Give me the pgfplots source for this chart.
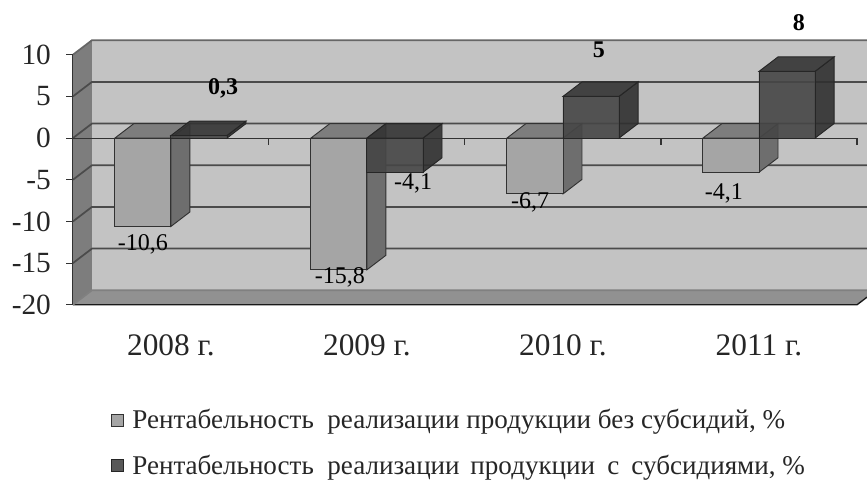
\documentclass[border=0pt]{standalone}
\usepackage{fontspec}
\setmainfont{Liberation Serif}
\usepackage{pgfplots}
\pgfplotsset{compat=1.18}
\definecolor{wallBack}{RGB}{195,195,195}
\definecolor{wallSide}{RGB}{125,125,125}
\definecolor{wallFloor}{RGB}{145,145,145}
\definecolor{gridDark}{RGB}{75,75,75}
\definecolor{lightFront}{RGB}{165,165,165}
\definecolor{lightTop}{RGB}{125,125,125}
\definecolor{lightSide}{RGB}{110,110,110}
\definecolor{darkFront}{RGB}{70,70,70}
\definecolor{darkTop}{RGB}{52,52,52}
\definecolor{darkSide}{RGB}{48,48,48}
\definecolor{edgeCol}{RGB}{50,50,50}
\pgfplotstableread{
x    noSub  withSub
0.5  -10.6  0.3
1.5  -15.8  -4.1
2.5  -6.7   5
3.5  -4.1   8
}\rentab
\pgfplotsset{
  wall/.style={forget plot,on layer=axis background,draw=none,mark=none},
  gridl/.style={forget plot,on layer=axis background,draw=gridDark,line width=1.3pt,mark=none},
  lface/.style={forget plot,mark=none,draw=edgeCol,line width=0.7pt,fill=#1},
  dface/.style={forget plot,mark=none,draw=black!85,line width=0.7pt,fill=#1,fill opacity=0.9},
}
\begin{document}
\begin{tikzpicture}
\begin{axis}[
  set layers,
  scale only axis,
  width=588pt,
  height=187.5pt,
  xmin=0, xmax=4,
  ymin=-20, ymax=10,
  clip=false,
  axis x line*=middle,
  axis y line*=left,
  hide obscured x ticks=false,
  hide obscured y ticks=false,
  axis line style={draw=edgeCol,line width=0.8pt},
  tick style={draw=edgeCol,line width=0.8pt},
  tick align=outside,
  major tick length=5pt,
  xtick={0,1,2,3,4},
  x tick label as interval,
  xticklabels={2008 г.,2009 г.,2010 г.,2011 г.},
  xticklabel style={yshift=-139pt,font=\fontsize{23.5}{27}\selectfont,text=black!85},
  ytick={-20,-15,-10,-5,0,5,10},
  yticklabel style={xshift=-8pt,font=\fontsize{22}{26}\selectfont,text=black!85},
  /pgf/number format/assume math mode=true,
  legend cell align=left,
  legend style={at={(axis cs:0.195,-32.2)},anchor=north west,draw=none,fill=none,
    font=\fontsize{20.3}{24}\selectfont,row sep=14pt,inner sep=0pt,text=black!85,
    /tikz/every odd column/.style={column sep=4pt}},
  legend image code/.code={\draw[#1] (0pt,-4.5pt) rectangle (9pt,4.5pt);},
]
% walls
\addplot[wall,fill=wallBack] coordinates {(0.097,-18.26) (4.051,-18.26) (4.051,11.74) (0.097,11.74)} --cycle;
\addplot[wall,fill=wallSide] coordinates {(0,-20) (0.097,-18.26) (0.097,11.74) (0,10)} --cycle;
\addplot[wall,fill=wallFloor] coordinates {(0,-20) (4,-20) (4.051,-19.09) (4.051,-18.26) (0.097,-18.26)} --cycle;
\addplot[gridl,draw=black!90,line width=1pt] coordinates {(0,-20) (4,-20) (4.051,-19.09)};
\addplot[gridl,gray] coordinates {(0,-20) (0.097,-18.26) (4.051,-18.26)};
\addplot[gridl] coordinates {(0,-15) (0.097,-13.26) (4.051,-13.26)};
\addplot[gridl] coordinates {(0,-10) (0.097,-8.26) (4.051,-8.26)};
\addplot[gridl] coordinates {(0,-5) (0.097,-3.26) (4.051,-3.26)};
\addplot[gridl] coordinates {(0,0) (0.097,1.74) (4.051,1.74)};
\addplot[gridl] coordinates {(0,5) (0.097,6.74) (4.051,6.74)};
\addplot[gridl,draw=black!60] coordinates {(0,10) (0.097,11.74) (4.051,11.74)};
% series without subsidies
\addplot[lface=lightSide] coordinates {(0.5,0) (0.597,1.74) (0.597,-8.86) (0.5,-10.6)} --cycle;
\addplot[lface=lightTop] coordinates {(0.214,0) (0.5,0) (0.597,1.74) (0.311,1.74)} --cycle;
\addplot[lface=lightSide] coordinates {(1.5,0) (1.597,1.74) (1.597,-14.06) (1.5,-15.8)} --cycle;
\addplot[lface=lightTop] coordinates {(1.214,0) (1.5,0) (1.597,1.74) (1.311,1.74)} --cycle;
\addplot[lface=lightSide] coordinates {(2.5,0) (2.597,1.74) (2.597,-4.96) (2.5,-6.7)} --cycle;
\addplot[lface=lightTop] coordinates {(2.214,0) (2.5,0) (2.597,1.74) (2.311,1.74)} --cycle;
\addplot[lface=lightSide] coordinates {(3.5,0) (3.597,1.74) (3.597,-2.36) (3.5,-4.1)} --cycle;
\addplot[lface=lightTop] coordinates {(3.214,0) (3.5,0) (3.597,1.74) (3.311,1.74)} --cycle;
\addplot[ybar,bar width=0.286,bar shift=-0.143,fill=lightFront,draw=edgeCol,line width=0.7pt]
  table[x=x,y=noSub] {\rentab};
\addlegendentry{Рентабельность\ \ реализации продукции без субсидий, \%}
% series with subsidies
\addplot[dface=darkSide] coordinates {(0.786,0) (0.883,1.74) (0.883,2.04) (0.786,0.3)} --cycle;
\addplot[dface=darkTop] coordinates {(0.5,0.3) (0.786,0.3) (0.883,2.04) (0.597,2.04)} --cycle;
\addplot[dface=darkSide] coordinates {(1.786,0) (1.883,1.74) (1.883,-2.36) (1.786,-4.1)} --cycle;
\addplot[dface=darkTop] coordinates {(1.5,0) (1.786,0) (1.883,1.74) (1.597,1.74)} --cycle;
\addplot[dface=darkSide] coordinates {(2.786,0) (2.883,1.74) (2.883,6.74) (2.786,5)} --cycle;
\addplot[dface=darkTop] coordinates {(2.5,5) (2.786,5) (2.883,6.74) (2.597,6.74)} --cycle;
\addplot[dface=darkSide] coordinates {(3.786,0) (3.883,1.74) (3.883,9.74) (3.786,8)} --cycle;
\addplot[dface=darkTop] coordinates {(3.5,8) (3.786,8) (3.883,9.74) (3.597,9.74)} --cycle;
\addplot[ybar,bar width=0.286,bar shift=0.143,fill=darkFront,fill opacity=0.9,draw=black!85,line width=0.7pt]
  table[x=x,y=withSub] {\rentab};
\addlegendentry{Рентабельность\ \ реализации\hspace{3pt} продукции\hspace{4pt} с\hspace{4pt} субсидиями, \%}
% data labels
\begin{scope}[every node/.style={font=\fontsize{18}{20}\selectfont,inner sep=0pt}]
\node at (axis cs:0.357,-12.7) {-10,6};
\node at (axis cs:0.766,6) {\bfseries 0,3};
\node at (axis cs:1.362,-16.7) {-15,8};
\node at (axis cs:1.735,-5.4) {-4,1};
\node at (axis cs:2.332,-7.7) {-6,7};
\node at (axis cs:2.683,10.55) {\bfseries 5};
\node at (axis cs:3.321,-6.6) {-4,1};
\node at (axis cs:3.704,13.8) {\bfseries 8};
\end{scope}
\coordinate (bbA) at (axis cs:-0.372,16.57);
\coordinate (bbB) at (axis cs:4.051,-40.94);
\end{axis}
\pgfresetboundingbox
\path[use as bounding box] (bbA) rectangle (bbB);
\end{tikzpicture}
\end{document}
